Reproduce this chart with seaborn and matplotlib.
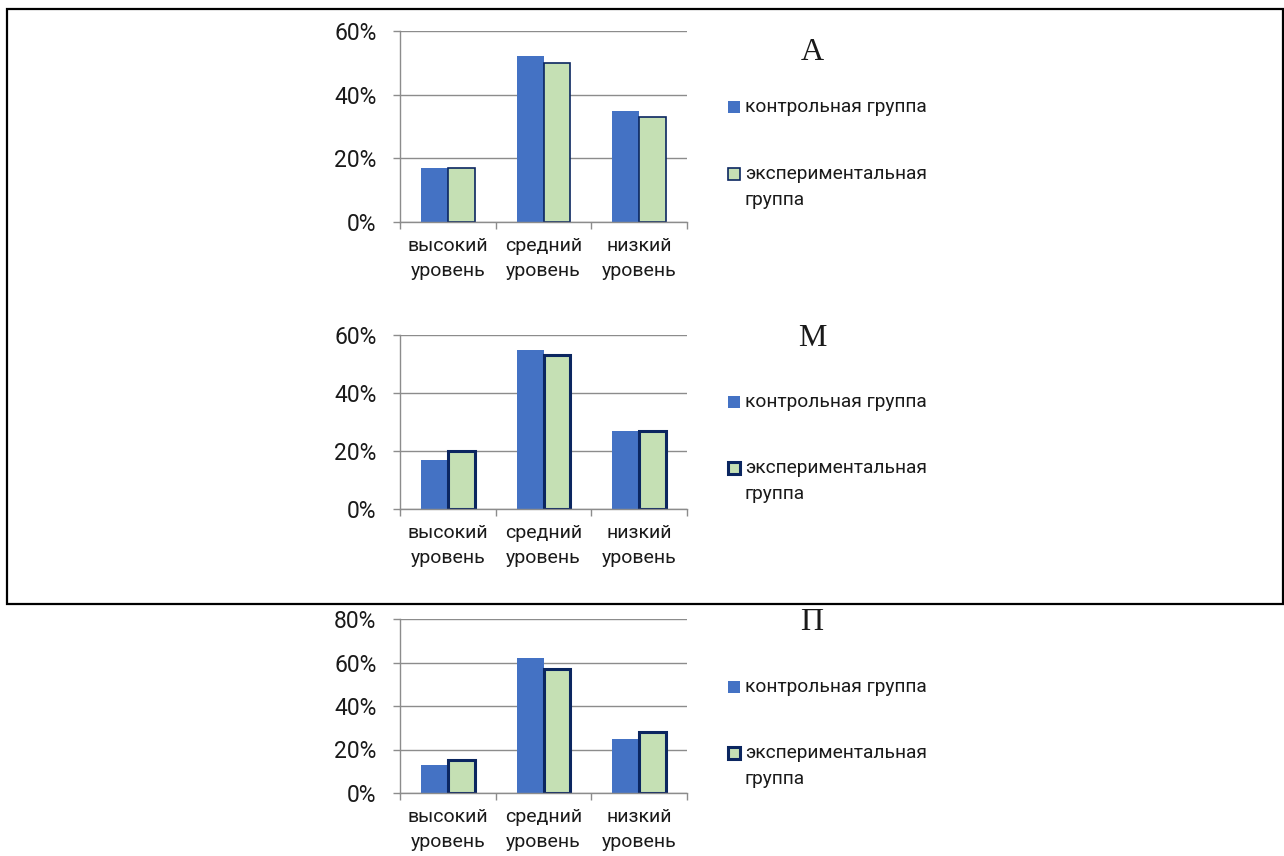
import pandas as pd
import matplotlib
matplotlib.use('Agg')
import matplotlib.pyplot as plt
import seaborn as sns
from matplotlib.patches import Rectangle
from matplotlib.ticker import PercentFormatter, FixedLocator

# Данные трёх диаграмм (в процентах)
categories = ['высокий\nуровень', 'средний\nуровень', 'низкий\nуровень']
groups = ['контрольная группа', 'экспериментальная\nгруппа']
titles = ['А', 'М', 'П']

a_control = [17, 52, 35]
a_exp = [17, 50, 33]
m_control = [17, 55, 27]
m_exp = [20, 53, 27]
p_control = [13, 62, 25]
p_exp = [15, 57, 28]

y_max = [60, 60, 80]

blue = '#4472C4'
green = '#C5E0B4'
navy = '#0B2660'
grid_col = '#8C8C8C'
txt_col = '#1A1A1A'

sns.set_style('white')
plt.rcParams['font.family'] = ['Roboto', 'DejaVu Sans']

W, H = 1284, 856
fig = plt.figure(figsize=(W / 100, H / 100), dpi=100)


def fx(px):
    return px / W


def fy(py):
    return 1 - py / H


# положение осей в пикселях: (верх, низ)
axes_px = [(31, 222), (335, 509), (619, 793)]
edge_w = [1.2, 2.2, 2.2]
legend_px = [(107, 174), (402, 468), (687, 753)]
title_px = [53, 338, 623]

series = [(a_control, a_exp), (m_control, m_exp), (p_control, p_exp)]

for i, (ctrl, exp) in enumerate(series):
    top, bot = axes_px[i]
    ax = fig.add_axes([fx(400), fy(bot), fx(687) - fx(400), fy(top) - fy(bot)])
    df = pd.DataFrame({
        'level': categories * 2,
        'group': [groups[0]] * 3 + [groups[1]] * 3,
        'value': ctrl + exp,
    })
    sns.barplot(data=df, x='level', y='value', hue='group', order=categories,
                hue_order=groups, palette=[blue, green], width=0.56, gap=0,
                saturation=1, legend=False, ax=ax)
    for p in ax.containers[0]:
        p.set_edgecolor('none')
    for p in ax.containers[1]:
        p.set_edgecolor(navy)
        p.set_linewidth(edge_w[i])

    ax.set_xlim(-0.5, 2.5)
    ax.set_ylim(0, y_max[i])
    ax.set_yticks(range(0, y_max[i] + 1, 20))
    ax.yaxis.set_major_formatter(PercentFormatter(100, decimals=0))
    ax.grid(axis='y', color=grid_col, linewidth=1)
    ax.set_axisbelow(True)
    ax.xaxis.set_minor_locator(FixedLocator([-0.5, 0.5, 1.5, 2.5]))
    ax.tick_params(axis='x', which='major', length=0, pad=11,
                   labelsize=14, labelcolor=txt_col)
    ax.tick_params(axis='x', which='minor', length=5, width=1,
                   color=grid_col, direction='out', bottom=True)
    ax.tick_params(axis='y', length=5, width=1, color=grid_col, left=True,
                   pad=12, labelsize=16.5, labelcolor=txt_col)
    for s in ['top', 'right']:
        ax.spines[s].set_visible(False)
    for s in ['left', 'bottom']:
        ax.spines[s].set_color(grid_col)
        ax.spines[s].set_linewidth(1)
    ax.set_xlabel('')
    ax.set_ylabel('')
    for lab in ax.get_xticklabels():
        lab.set_linespacing(1.5)

    # заголовок
    fig.text(fx(812), fy(title_px[i]), titles[i], ha='center', va='center',
             family='Liberation Serif', fontsize=23, color=txt_col)

    # легенда
    ly1, ly2 = legend_px[i]
    fig.patches.append(Rectangle((fx(728), fy(ly1 + 6)), fx(12), fy(0) - fy(12),
                                 transform=fig.transFigure, facecolor=blue,
                                 edgecolor='none'))
    fig.patches.append(Rectangle((fx(728), fy(ly2 + 6)), fx(12), fy(0) - fy(12),
                                 transform=fig.transFigure, facecolor=green,
                                 edgecolor=navy, linewidth=edge_w[i]))
    fig.text(fx(745), fy(ly1), groups[0], ha='left', va='center',
             fontsize=13.8, color=txt_col)
    fig.text(fx(745), fy(ly2 - 9), groups[1], ha='left', va='top',
             fontsize=13.8, color=txt_col, linespacing=1.6)

# рамка вокруг двух верхних диаграмм
fig.patches.append(Rectangle((fx(7), fy(604)), fx(1283) - fx(7), fy(9) - fy(604),
                             transform=fig.transFigure, facecolor='none',
                             edgecolor='black', linewidth=1.6))

fig.savefig('out.png', dpi=100)
